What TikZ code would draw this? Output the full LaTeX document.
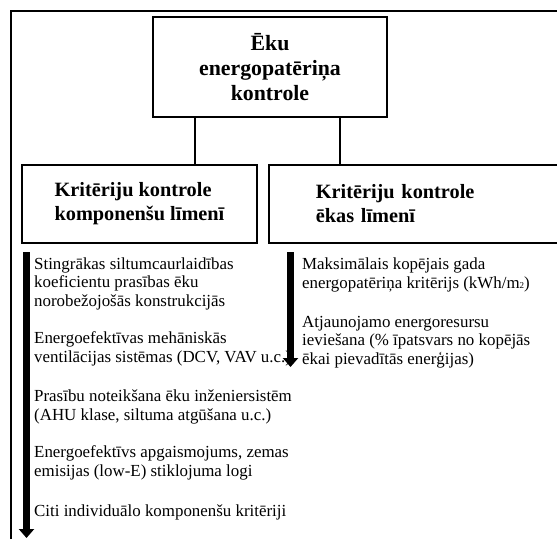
\documentclass[tikz,border=0pt]{standalone}
\usepackage{fontspec}
\setmainfont{Liberation Serif}
\usepackage{tikz}
\usetikzlibrary{positioning}
\usetikzlibrary{calc}
\usetikzlibrary{arrows.meta}

\tikzset{
    head/.style={draw, line width=1.6pt, inner sep=0pt,
        font=\bfseries\fontsize{20.3}{24}\selectfont},
    item/.style={anchor=base west, inner sep=0pt, align=left,
        font=\fontsize{16.9}{18.5}\selectfont},
    flow/.style={line width=6.5pt, -{Triangle[width=15pt,length=9pt]}},
}

\begin{document}
\begin{tikzpicture}[x=1pt, y=1pt]
    \useasboundingbox (0,0) rectangle (557,-539);
    \clip (0,0) rectangle (557,-539);

    % outer frame
    \draw[line width=1.3pt] (11,-539) -- (11,-11) -- (557,-11);

    \node [head, align=center, minimum width=234pt, minimum height=100pt,
        font=\bfseries\fontsize{21.8}{25}\selectfont] (top) at (270,-67)
        {Ēku\\energopatēriņa\\kontrole};
    \node [head, align=left, minimum width=235pt, minimum height=78pt] (komp) at (139.5,-204)
        {Kritēriju kontrole\\komponenšu līmenī};
    \node [head, align=left, text width=206pt, inner xsep=47pt, minimum height=78pt,
        anchor=west] (ekas) at (268,-204)
        {Kritēriju kontrole\\ēkas līmenī};

    \draw[line width=1.6pt] ([xshift=-75pt]top.south) -- ([xshift=-75pt]top.south |- komp.north);
    \draw[line width=1.6pt] ([xshift=70pt]top.south) -- ([xshift=70pt]top.south |- ekas.north);

    % component level
    \node [item] (i1) at (34,-306) {Stingrākas siltumcaurlaidības\\koeficientu prasības ēku\\norobežojošās konstrukcijās};
    \node [item] (i2) at (34,-362) {Energoefektīvas mehāniskās\\ventilācijas sistēmas (DCV, VAV u.c.),};
    \node [item] (i3) at (34,-420) {Prasību noteikšana ēku inženiersistēm\\(AHU klase, siltuma atgūšana u.c.)};
    \node [item] (i4) at (34,-476) {Energoefektīvs apgaismojums, zemas\\emisijas (low-E) stiklojuma logi};
    \node [item] (i5) at (34,-516) {Citi individuālo komponenšu kritēriji};

    \coordinate (ka) at (26.5,-252);
    \coordinate (kb) at (26.5,-538);
    \draw[flow] (ka) -- (kb);

    % building level
    \node [item] (r1) at (302,-288) {Maksimālais kopējais gada\\energopatēriņa kritērijs (kWh/m{\small 2})};
    \node [item] (r2) at (302,-364) {Atjaunojamo energoresursu\\ieviešana (\% īpatsvars no kopējās\\ēkai pievadītās enerģijas)};

    \coordinate (ea) at (290.5,-252);
    \coordinate (eb) at (290.5,-367);
    \draw[flow] (ea) -- (eb);
\end{tikzpicture}
\end{document}
